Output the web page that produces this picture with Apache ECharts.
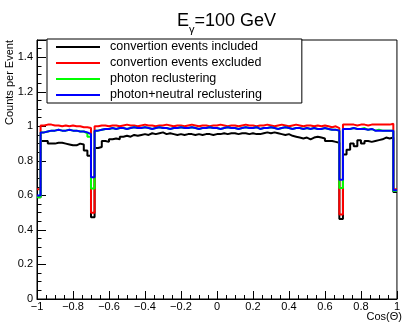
<!DOCTYPE html>
<html>
<head>
<meta charset="utf-8">
<script src="https://cdn.jsdelivr.net/npm/echarts@6/dist/echarts.min.js"></script>
<style>
  html, body { margin: 0; padding: 0; background: #fff; }
  #chart { width: 403px; height: 323px; }
</style>
</head>
<body>
<div id="chart"></div>
<script>
// binning of the histograms: 100 bins over Cos(Theta) in [-1, 1]
const xLow = -1;
const xHigh = 1;

const legendNames = [
  "convertion events included",
  "convertion events excluded",
  "photon reclustering",
  "photon+neutral reclustering"
];
const lineColors = ["#000000", "#ff0000", "#00ff00", "#0000ff"];

// counts per event, one value per bin
const convIncluded = [
  0.59, 0.915, 0.915, 0.90, 0.90, 0.905, 0.905, 0.90, 0.895, 0.89,
  0.89, 0.90, 0.895, 0.86, 0.83, 0.473, 0.875, 0.88, 0.915, 0.91,
  0.925, 0.93, 0.925, 0.94, 0.945, 0.94, 0.95, 0.945, 0.95, 0.955,
  0.95, 0.96, 0.955, 0.96, 0.965, 0.955, 0.96, 0.955, 0.95, 0.955,
  0.95, 0.955, 0.955, 0.95, 0.955, 0.95, 0.955, 0.955, 0.95, 0.955,
  0.955, 0.96, 0.955, 0.96, 0.96, 0.955, 0.96, 0.96, 0.955, 0.96,
  0.955, 0.955, 0.96, 0.965, 0.96, 0.965, 0.96, 0.955, 0.95, 0.955,
  0.945, 0.94, 0.935, 0.93, 0.935, 0.925, 0.935, 0.94, 0.935, 0.93,
  0.915, 0.915, 0.91, 0.905, 0.463, 0.837, 0.865, 0.90, 0.885, 0.92,
  0.90, 0.915, 0.91, 0.915, 0.92, 0.925, 0.935, 0.93, 0.935, 0.62
];
const convExcluded = [
  0.635, 1.005, 1.01, 1.01, 1.005, 1.005, 1.0, 1.005, 1.0, 1.005,
  1.0, 1.0, 0.995, 0.995, 0.99, 0.50, 1.0, 1.005, 1.005, 1.0,
  1.005, 1.005, 1.0, 1.005, 1.01, 1.005, 1.005, 1.0, 1.005, 1.01,
  1.005, 1.005, 1.0, 1.005, 1.005, 1.01, 1.005, 1.0, 1.005, 1.005,
  1.0, 1.005, 1.01, 1.005, 1.0, 1.005, 1.005, 1.0, 1.005, 1.005,
  1.01, 1.005, 1.0, 1.005, 1.005, 1.0, 1.005, 1.01, 1.005, 1.005,
  1.0, 1.005, 1.005, 1.01, 1.005, 1.0, 1.005, 1.01, 1.005, 1.0,
  1.005, 1.01, 1.005, 1.0, 1.005, 1.005, 1.0, 1.005, 1.0, 1.005,
  1.0, 0.995, 1.0, 0.99, 0.49, 1.01, 1.01, 1.01, 1.005, 1.01,
  1.01, 1.005, 1.01, 1.01, 1.01, 1.01, 1.01, 1.01, 1.015, 0.635
];
const photonRecl = [
  0.59, 0.965, 0.97, 0.975, 0.975, 0.98, 0.975, 0.975, 0.98, 0.975,
  0.975, 0.97, 0.97, 0.96, 0.94, 0.64, 0.975, 0.98, 0.985, 0.985,
  0.99, 0.985, 0.99, 0.99, 0.985, 0.99, 0.995, 0.99, 0.99, 0.995,
  0.99, 0.985, 0.99, 0.995, 0.99, 0.99, 0.985, 0.99, 0.99, 0.995,
  0.99, 0.99, 0.995, 0.99, 0.985, 0.99, 0.99, 0.995, 0.99, 0.99,
  0.985, 0.99, 0.995, 0.99, 0.99, 0.985, 0.99, 0.995, 0.99, 0.99,
  0.995, 0.985, 0.99, 0.99, 0.995, 0.99, 0.985, 0.99, 0.995, 0.99,
  0.985, 0.99, 0.99, 0.985, 0.99, 0.985, 0.99, 0.985, 0.985, 0.99,
  0.985, 0.98, 0.98, 0.975, 0.643, 0.985, 0.985, 0.99, 0.985, 0.985,
  0.99, 0.98, 0.985, 0.975, 0.98, 0.975, 0.975, 0.975, 0.975, 0.625
];
const photonNeutralRecl = [
  0.60, 0.965, 0.97, 0.975, 0.975, 0.98, 0.975, 0.975, 0.98, 0.975,
  0.975, 0.97, 0.97, 0.965, 0.955, 0.705, 0.975, 0.98, 0.985, 0.985,
  0.99, 0.985, 0.99, 0.99, 0.985, 0.99, 0.995, 0.99, 0.99, 0.995,
  0.99, 0.985, 0.99, 0.995, 0.99, 0.99, 0.985, 0.99, 0.99, 0.995,
  0.99, 0.99, 0.995, 0.99, 0.985, 0.99, 0.99, 0.995, 0.99, 0.99,
  0.985, 0.99, 0.995, 0.99, 0.99, 0.985, 0.99, 0.995, 0.99, 0.99,
  0.995, 0.985, 0.99, 0.99, 0.995, 0.99, 0.985, 0.99, 0.995, 0.99,
  0.985, 0.99, 0.99, 0.985, 0.99, 0.985, 0.99, 0.985, 0.985, 0.99,
  0.985, 0.98, 0.98, 0.975, 0.69, 0.985, 0.985, 0.99, 0.985, 0.985,
  0.985, 0.98, 0.985, 0.975, 0.975, 0.975, 0.975, 0.975, 0.975, 0.63
];

const allSeries = [convIncluded, convExcluded, photonRecl, photonNeutralRecl];
const font = "'Liberation Sans', Arial, sans-serif";

// left bin edges + closing point at xHigh, drawn with step:'end'
const histPoints = (vals) => {
  const w = (xHigh - xLow) / vals.length;
  const pts = vals.map((v, i) => [xLow + i * w, v]);
  pts.push([xHigh, vals[vals.length - 1]]);
  return pts;
};

const chart = echarts.init(document.getElementById("chart"), null, { renderer: "canvas" });

const option = {
  animation: false,
  backgroundColor: "#ffffff",
  title: {
    text: "{a|E}{b|γ}{a|=100 GeV}",
    left: 172,
    top: 5,
    textStyle: {
      fontWeight: "normal",
      rich: {
        a: { fontSize: 18, lineHeight: 22, fontFamily: font, fontWeight: "normal", color: "#000" },
        b: { fontSize: 11, lineHeight: 22, fontFamily: font, fontWeight: "normal", color: "#000", verticalAlign: "bottom", padding: [0, 0, -3, 0] }
      }
    }
  },
  grid: {
    left: 37,
    right: 2,
    top: 40,
    bottom: 24,
    show: true,
    borderColor: "#000",
    borderWidth: 1,
    backgroundColor: "transparent"
  },
  legend: {
    orient: "vertical",
    left: 47,
    top: 39,
    icon: "rect",
    itemWidth: 44,
    itemHeight: 2,
    itemGap: 0,
    padding: [0, 40, 0, 9],
    borderColor: "#000",
    borderWidth: 1,
    backgroundColor: "#fff",
    textStyle: { fontSize: 12.5, lineHeight: 16, fontFamily: font, color: "#000", padding: [0, 0, 0, 5] },
    data: legendNames
  },
  xAxis: {
    type: "value",
    min: xLow,
    max: xHigh,
    interval: 0.2,
    axisLine: { onZero: false, lineStyle: { color: "#000", width: 1 } },
    axisTick: { inside: true, length: 8, lineStyle: { color: "#000" } },
    minorTick: { show: true, splitNumber: 4, length: 4, lineStyle: { color: "#000" } },
    splitLine: { show: false },
    axisLabel: {
      fontSize: 11,
      fontFamily: font,
      color: "#000",
      margin: 2,
      formatter: (v) => String(Math.round(v * 10) / 10).replace("-", "\u2212")
    }
  },
  yAxis: {
    type: "value",
    min: 0,
    max: 1.5,
    interval: 0.2,
    axisLine: { show: true, onZero: false, lineStyle: { color: "#000", width: 1 } },
    axisTick: { show: true, inside: true, length: 9, lineStyle: { color: "#000" } },
    minorTick: { show: true, splitNumber: 4, length: 4.5, lineStyle: { color: "#000" } },
    splitLine: { show: false },
    axisLabel: {
      fontSize: 11,
      fontFamily: font,
      color: "#000",
      margin: 4,
      showMaxLabel: false,
      formatter: (v) => (v > 1.45 ? "" : String(Math.round(v * 10) / 10))
    }
  },
  graphic: [
    {
      type: "text",
      x: 10,
      y: 40,
      rotation: Math.PI / 2,
      style: {
        text: "Counts per Event",
        font: "11px " + font,
        fill: "#000",
        align: "right",
        verticalAlign: "middle"
      }
    },
    {
      type: "text",
      x: 402,
      y: 317,
      style: {
        text: "Cos(\u0398)",
        font: "11px " + font,
        fill: "#000",
        align: "right",
        verticalAlign: "middle"
      }
    }
  ],
  series: allSeries.map((vals, k) => ({
    name: legendNames[k],
    type: "line",
    step: "end",
    symbol: "none",
    data: histPoints(vals),
    lineStyle: { color: lineColors[k], width: 2 },
    itemStyle: { color: lineColors[k] },
    z: 2 + k
  }))
};

chart.setOption(option);
</script>
</body>
</html>
